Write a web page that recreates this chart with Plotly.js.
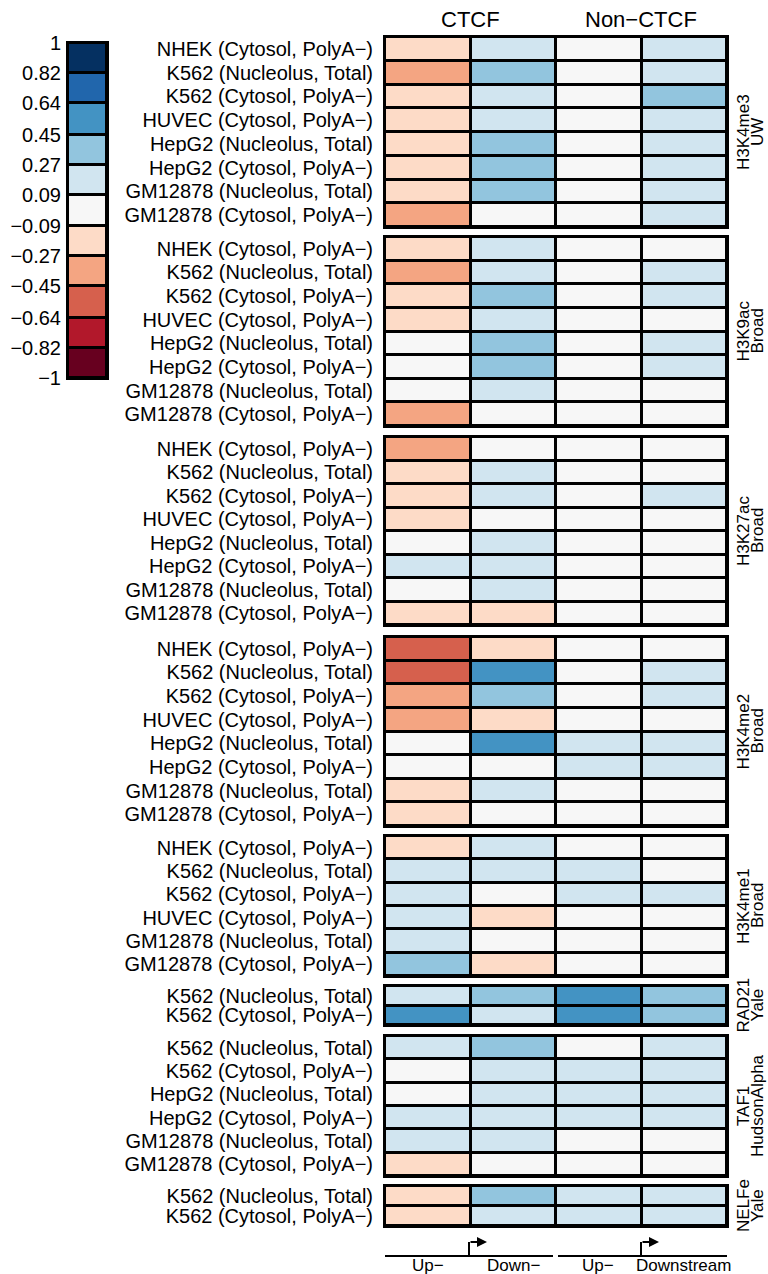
<!DOCTYPE html>
<html><head><meta charset="utf-8">
<script src="https://cdn.plot.ly/plotly-3.0.1.min.js"></script>
<style>html,body{margin:0;padding:0;background:#fff}#chart{width:768px;height:1274px}</style>
</head><body><div id="chart"></div>
<script>
// ---- data ----
const columns = ['CTCF Up−', 'CTCF Down−', 'Non−CTCF Up−', 'Non−CTCF Downstream'];
const colorBreaks = [-1, -0.82, -0.64, -0.45, -0.27, -0.09, 0.09, 0.27, 0.45, 0.64, 0.82, 1];
const binColors = ['#67001F', '#B2182B', '#D6604D', '#F4A582', '#FDDBC7', '#F7F7F7', '#D1E5F0', '#92C5DE', '#4393C3', '#2166AC', '#053061'];

const rows8 = ['NHEK (Cytosol, PolyA−)', 'K562 (Nucleolus, Total)', 'K562 (Cytosol, PolyA−)', 'HUVEC (Cytosol, PolyA−)', 'HepG2 (Nucleolus, Total)', 'HepG2 (Cytosol, PolyA−)', 'GM12878 (Nucleolus, Total)', 'GM12878 (Cytosol, PolyA−)'];
const rowsH3K4me1 = ['NHEK (Cytosol, PolyA−)', 'K562 (Nucleolus, Total)', 'K562 (Cytosol, PolyA−)', 'HUVEC (Cytosol, PolyA−)', 'GM12878 (Nucleolus, Total)', 'GM12878 (Cytosol, PolyA−)'];
const rowsK562 = ['K562 (Nucleolus, Total)', 'K562 (Cytosol, PolyA−)'];
const rowsTAF1 = ['K562 (Nucleolus, Total)', 'K562 (Cytosol, PolyA−)', 'HepG2 (Nucleolus, Total)', 'HepG2 (Cytosol, PolyA−)', 'GM12878 (Nucleolus, Total)', 'GM12878 (Cytosol, PolyA−)'];

const valsH3K4me3 = [
  [-0.18, 0.18, 0.02, 0.19],
  [-0.36, 0.37, 0.03, 0.17],
  [-0.17, 0.19, 0.02, 0.36],
  [-0.16, 0.18, 0.01, 0.18],
  [-0.18, 0.35, 0.02, 0.18],
  [-0.17, 0.36, 0.01, 0.17],
  [-0.16, 0.35, 0.02, 0.19],
  [-0.35, 0.05, 0.01, 0.18]
];
const valsH3K9ac = [
  [-0.18, 0.17, 0.01, 0.05],
  [-0.36, 0.16, 0.02, 0.18],
  [-0.17, 0.36, 0.01, 0.17],
  [-0.16, 0.18, 0.02, 0.06],
  [-0.05, 0.37, 0.02, 0.18],
  [-0.04, 0.36, 0.01, 0.17],
  [-0.03, 0.17, 0.01, 0.05],
  [-0.35, 0.04, 0.01, 0.04]
];
const valsH3K27ac = [
  [-0.36, 0.04, 0.01, 0.03],
  [-0.18, 0.16, 0.01, 0.06],
  [-0.17, 0.17, 0.02, 0.16],
  [-0.16, 0.05, 0.01, 0.04],
  [0.03, 0.18, 0.01, 0.03],
  [0.15, 0.17, 0.02, 0.04],
  [0.02, 0.17, 0.01, 0.03],
  [-0.18, -0.16, 0.01, 0.02]
];
const valsH3K4me2 = [
  [-0.56, -0.17, 0.02, 0.03],
  [-0.55, 0.56, 0.03, 0.17],
  [-0.37, 0.36, 0.02, 0.16],
  [-0.36, -0.16, 0.01, 0.05],
  [-0.03, 0.58, 0.17, 0.18],
  [0.02, 0.04, 0.16, 0.17],
  [-0.17, 0.16, 0.02, 0.04],
  [-0.16, 0.03, 0.01, 0.03]
];
const valsH3K4me1 = [
  [-0.17, 0.17, 0.03, 0.04],
  [0.16, 0.17, 0.16, 0.05],
  [0.17, 0.04, 0.17, 0.16],
  [0.18, -0.16, 0.04, 0.03],
  [0.16, 0.05, 0.03, 0.02],
  [0.36, -0.17, 0.02, 0.03]
];
const valsRAD21 = [
  [0.18, 0.36, 0.57, 0.37],
  [0.55, 0.19, 0.56, 0.38]
];
const valsTAF1 = [
  [0.17, 0.36, 0.06, 0.18],
  [0.05, 0.17, 0.16, 0.17],
  [0.06, 0.18, 0.17, 0.18],
  [0.16, 0.17, 0.18, 0.17],
  [0.17, 0.18, 0.05, 0.06],
  [-0.17, 0.04, 0.03, 0.04]
];
const valsNELFe = [
  [-0.18, 0.37, 0.17, 0.18],
  [-0.17, 0.18, 0.16, 0.17]
];

const panelNames = [['H3K4me3', 'UW'], ['H3K9ac', 'Broad'], ['H3K27ac', 'Broad'], ['H3K4me2', 'Broad'], ['H3K4me1', 'Broad'], ['RAD21', 'Yale'], ['TAF1', 'HudsonAlpha'], ['NELFe', 'Yale']];
const panelRows = [rows8, rows8, rows8, rows8, rowsH3K4me1, rowsK562, rowsTAF1, rowsK562];
const panelVals = [valsH3K4me3, valsH3K9ac, valsH3K27ac, valsH3K4me2, valsH3K4me1, valsRAD21, valsTAF1, valsNELFe];

// ---- layout geometry (pixels) ----
const W = 768, H = 1274;
const px = x => x / W;
const py = y => 1 - y / H;
const panelPx = [[37, 227], [237, 426], [437, 625], [637, 826], [836, 976], [986, 1025], [1036, 1176], [1186, 1226]];
const heatX = [385, 727];
const FONT = 'Liberation Sans, Arial, Helvetica, sans-serif';

// stepwise colorscale
const colorscale = [];
binColors.forEach((c, i) => {
  const a = (colorBreaks[i] + 1) / 2, b = (colorBreaks[i + 1] + 1) / 2;
  colorscale.push([a, c]);
  colorscale.push([b, c]);
});

const data = [];
const layout = {
  width: W, height: H,
  margin: {l: 0, r: 0, t: 0, b: 0},
  paper_bgcolor: '#ffffff',
  plot_bgcolor: '#000000',
  showlegend: false,
  font: {family: FONT, color: '#000', size: 20},
  annotations: [], shapes: []
};

panelVals.forEach((vals, i) => {
  const n = i + 1;
  const xa = 'x' + (n === 1 ? '' : n), ya = 'y' + (n === 1 ? '' : n);
  data.push({
    type: 'heatmap', x: [0, 1, 2, 3], y: panelRows[i], z: vals,
    xaxis: xa, yaxis: ya,
    zmin: -1, zmax: 1, colorscale: colorscale, showscale: false,
    xgap: 3, ygap: 3, hoverinfo: 'skip'
  });
  const [t, b] = panelPx[i];
  layout['xaxis' + (n === 1 ? '' : n)] = {
    domain: [px(heatX[0]), px(heatX[1])], anchor: ya, range: [-0.5, 3.5],
    showticklabels: false, showgrid: false, zeroline: false, ticks: '',
    showline: true, mirror: true, linewidth: 2, linecolor: '#000', fixedrange: true
  };
  layout['yaxis' + (n === 1 ? '' : n)] = {
    domain: [py(b), py(t)], anchor: xa, type: 'category', autorange: 'reversed',
    tickmode: 'array', tickvals: panelRows[i], ticktext: panelRows[i],
    showgrid: false, zeroline: false, ticks: '', ticklabelstandoff: 6,
    tickfont: {family: FONT, size: 20, color: '#000'},
    showline: true, mirror: true, linewidth: 2, linecolor: '#000', fixedrange: true
  };
  const yc = py((t + b) / 2);
  layout.annotations.push({xref: 'paper', yref: 'paper', x: px(743), y: yc, text: panelNames[i][0], textangle: -90, showarrow: false, xanchor: 'center', yanchor: 'middle', font: {size: 17}});
  layout.annotations.push({xref: 'paper', yref: 'paper', x: px(757), y: yc, text: panelNames[i][1], textangle: -90, showarrow: false, xanchor: 'center', yanchor: 'middle', font: {size: 17}});
});

// colour key as its own heatmap
const keyZ = binColors.map((c, i) => [(colorBreaks[i] + colorBreaks[i + 1]) / 2]);
data.push({
  type: 'heatmap', x: [0], y: colorBreaks, z: keyZ, xaxis: 'x9', yaxis: 'y9',
  zmin: -1, zmax: 1, colorscale: colorscale, showscale: false,
  xgap: 3, ygap: 3, hoverinfo: 'skip'
});
layout.xaxis9 = {domain: [px(68), px(107)], anchor: 'y9', range: [-0.5, 0.5], showticklabels: false, showgrid: false, zeroline: false, ticks: '', showline: true, mirror: true, linewidth: 2, linecolor: '#000', fixedrange: true};
layout.yaxis9 = {
  domain: [py(378), py(43)], anchor: 'x9', range: [-1, 1],
  tickmode: 'array', tickvals: colorBreaks, ticktext: colorBreaks.map(v => v < 0 ? '−' + Math.abs(v) : String(v)),
  showgrid: false, zeroline: false, ticks: '', ticklabelstandoff: 1,
  tickfont: {family: FONT, size: 20, color: '#000'},
  showline: true, mirror: true, linewidth: 2, linecolor: '#000', fixedrange: true
};

// column headers
layout.annotations.push({xref: 'paper', yref: 'paper', x: px(470), y: py(20), text: 'CTCF', showarrow: false, xanchor: 'center', yanchor: 'middle', font: {size: 22}});
layout.annotations.push({xref: 'paper', yref: 'paper', x: px(641), y: py(20), text: 'Non−CTCF', showarrow: false, xanchor: 'center', yanchor: 'middle', font: {size: 22}});

// bottom gene schematic
const lineStyle = {color: '#000', width: 2};
[[385, 553, 469], [558, 727, 641]].forEach(([a, b, tss]) => {
  layout.shapes.push({type: 'line', xref: 'paper', yref: 'paper', x0: px(a), x1: px(b), y0: py(1256), y1: py(1256), line: lineStyle});
  layout.shapes.push({type: 'line', xref: 'paper', yref: 'paper', x0: px(tss), x1: px(tss), y0: py(1256), y1: py(1242), line: lineStyle});
  layout.annotations.push({xref: 'paper', yref: 'paper', x: px(tss + 18), y: py(1242), ax: -18, ay: 0, text: '', showarrow: true, arrowhead: 2, arrowsize: 1, arrowwidth: 2, arrowcolor: '#000'});
});
const bottomLabels = [['Up−', 428], ['Down−', 513], ['Up−', 598], ['Downstream', 683]];
bottomLabels.forEach(([t, x]) => {
  layout.annotations.push({xref: 'paper', yref: 'paper', x: px(x), y: py(1265), text: t, showarrow: false, xanchor: 'center', yanchor: 'middle', font: {size: 17}});
});

Plotly.newPlot('chart', data, layout, {staticPlot: true, displayModeBar: false});
</script>
</body></html>
